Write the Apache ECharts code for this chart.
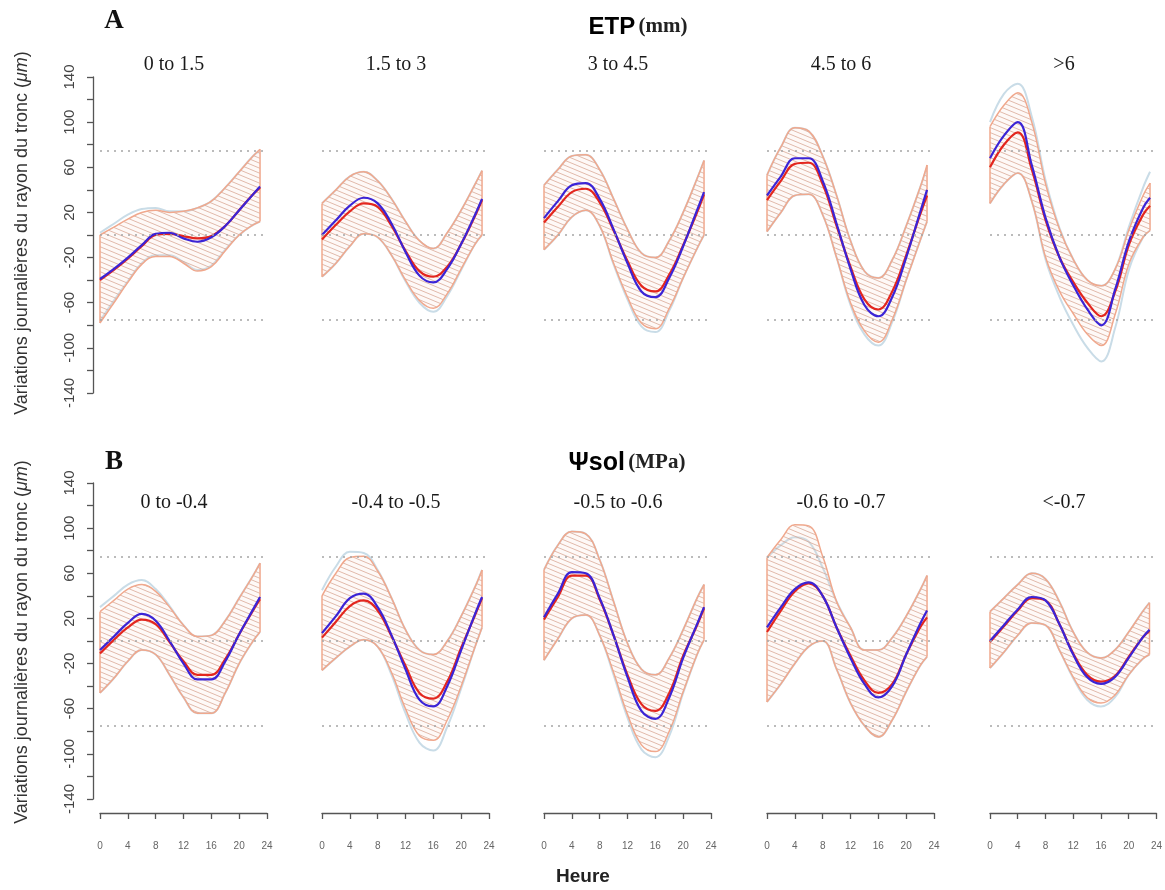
<!DOCTYPE html>
<html><head><meta charset="utf-8">
<script src="https://cdn.jsdelivr.net/npm/echarts@6/dist/echarts.min.js"></script>
<style>html,body{margin:0;padding:0;background:#fff}#c{width:1165px;height:890px}</style>
</head><body><div id="c"></div>
<script>
// ---------------- DATA ----------------
const hours = [0, 2, 4, 6, 8, 10, 12, 14, 16, 18, 20, 22, 23];
const yMin = -140, yMax = 140, yStep = 20, yLabelStep = 40;
const refLines = [75, 0, -75];

const titlesA = ['0 to 1.5', '1.5 to 3', '3 to 4.5', '4.5 to 6', '>6'];
const titlesB = ['0 to -0.4', '-0.4 to -0.5', '-0.5 to -0.6', '-0.6 to -0.7', '<-0.7'];

// Row A (ETP classes): red mean, blue mean, red band (up/lo), blue band (up/lo)
const redA = [
  [-40, -31, -21, -10, 0, 1, -1, -3, -1, 8, 22, 36, 42],
  [-4, 9, 21, 28, 25, 8, -14, -32, -37, -28, -8, 17, 31],
  [11, 25, 38, 41, 29, 4, -23, -45, -50, -35, -9, 20, 36],
  [31, 48, 63, 64, 45, 8, -28, -57, -66, -50, -18, 18, 35],
  [60, 80, 91, 58, 13, -20, -42, -60, -72, -50, -8, 18, 26]
];
const blueA = [
  [-39, -30, -20, -9, 1, 2, -3, -6, -2, 8, 22, 36, 43],
  [0, 13, 26, 33, 28, 10, -15, -36, -42, -30, -8, 18, 32],
  [15, 30, 44, 46, 32, 5, -25, -50, -55, -38, -10, 22, 38],
  [35, 52, 68, 68, 48, 10, -30, -62, -72, -55, -20, 20, 40],
  [68, 88, 100, 62, 15, -20, -45, -66, -80, -48, -5, 24, 33]
];
const upA = [
  [0, 7, 14, 20, 22, 20, 21, 24, 30, 42, 56, 70, 76],
  [28, 40, 52, 56, 48, 32, 12, -5, -12, 2, 22, 45, 57],
  [44, 58, 70, 71, 58, 32, 5, -16, -20, -5, 20, 50, 66],
  [53, 78, 95, 92, 70, 35, -5, -32, -38, -22, 8, 42, 62],
  [96, 115, 126, 100, 45, 5, -22, -40, -45, -30, 5, 35, 46]
];
const loA = [
  [-78, -60, -42, -26, -19, -19, -25, -32, -28, -14, 0, 9, 12],
  [-37, -25, -10, 1, -2, -18, -40, -58, -65, -52, -30, -8, 0],
  [-13, 0, 16, 22, 8, -25, -55, -78, -83, -65, -38, -12, 0],
  [3, 20, 35, 36, 18, -20, -60, -85, -95, -75, -40, -5, 12],
  [28, 45, 55, 30, -20, -50, -70, -88, -98, -70, -25, -2, 4]
];
const bUpA = [
  [2, 10, 18, 23, 24, 21, 21, 24, 30, 42, 56, 70, 75],
  [28, 40, 52, 56, 48, 32, 12, -5, -12, 2, 22, 45, 57],
  [44, 58, 70, 71, 58, 32, 5, -16, -20, -5, 20, 50, 66],
  [53, 78, 95, 92, 70, 35, -5, -32, -38, -22, 8, 42, 60],
  [100, 125, 134, 105, 48, 6, -22, -40, -45, -30, 8, 42, 56]
];
const bLoA = [
  [-76, -58, -41, -25, -18, -18, -24, -31, -27, -13, 0, 9, 12],
  [-37, -25, -10, 1, -2, -18, -41, -60, -68, -54, -31, -8, 0],
  [-13, 0, 16, 22, 8, -26, -57, -81, -86, -67, -38, -12, 0],
  [3, 20, 35, 36, 18, -20, -62, -88, -98, -77, -40, -5, 12],
  [28, 45, 55, 30, -22, -55, -80, -100, -112, -82, -30, -2, 4]
];

// Row B (Psi sol classes)
const redB = [
  [-11, 1, 12, 19, 15, -1, -18, -30, -30, -16, 6, 27, 37],
  [3, 17, 31, 36, 27, 4, -22, -46, -51, -36, -6, 23, 38],
  [19, 39, 58, 58, 37, 5, -30, -56, -62, -46, -13, 14, 29],
  [8, 27, 44, 51, 40, 12, -13, -35, -46, -38, -12, 12, 21],
  [-1, 13, 27, 38, 36, 15, -11, -30, -36, -31, -14, 3, 9]
];
const blueB = [
  [-8, 4, 16, 24, 18, 0, -20, -34, -34, -18, 6, 28, 39],
  [7, 22, 38, 42, 30, 5, -25, -52, -58, -40, -8, 24, 39],
  [21, 42, 61, 60, 38, 5, -32, -62, -69, -50, -15, 15, 30],
  [12, 30, 46, 52, 40, 12, -15, -38, -50, -40, -12, 15, 27],
  [0, 14, 28, 39, 36, 15, -12, -32, -38, -32, -15, 3, 10]
];
const upB = [
  [26, 36, 46, 50, 44, 30, 14, 4, 5, 18, 38, 58, 69],
  [40, 60, 74, 75, 62, 38, 10, -8, -12, 0, 22, 48, 63],
  [63, 85, 97, 95, 72, 35, -2, -25, -30, -15, 10, 38, 50],
  [74, 90, 103, 102, 75, 35, 12, -8, -8, 3, 22, 45, 58],
  [26, 38, 50, 60, 55, 35, 8, -10, -15, -8, 8, 26, 34]
];
const loB = [
  [-46, -33, -18, -8, -12, -30, -50, -64, -64, -46, -20, 0, 8],
  [-26, -15, -5, 1, -5, -28, -60, -84, -88, -70, -40, -5, 12],
  [-17, 2, 20, 23, 5, -28, -65, -92, -98, -80, -45, -12, 1],
  [-54, -38, -20, -5, 0, -25, -55, -75, -85, -70, -45, -22, -14],
  [-24, -10, 5, 16, 14, -8, -32, -50, -55, -48, -30, -16, -12]
];
const bUpB = [
  [30, 40, 50, 54, 46, 31, 14, 4, 5, 18, 38, 58, 69],
  [45, 66, 79, 78, 63, 38, 10, -8, -12, 0, 22, 48, 63],
  [63, 85, 97, 95, 72, 35, -2, -25, -30, -15, 10, 38, 50],
  [74, 85, 92, 88, 65, 35, 12, -8, -8, 3, 22, 45, 58],
  [26, 38, 50, 60, 55, 35, 8, -10, -15, -8, 8, 26, 34]
];
const bLoB = [
  [-46, -33, -18, -8, -12, -30, -50, -64, -64, -46, -20, 0, 8],
  [-26, -15, -5, 1, -5, -30, -64, -90, -97, -76, -42, -5, 12],
  [-17, 2, 20, 23, 5, -30, -68, -96, -103, -84, -46, -12, 1],
  [-54, -38, -20, -5, 0, -25, -55, -75, -85, -70, -45, -22, -14],
  [-24, -10, 5, 16, 14, -8, -33, -52, -58, -50, -30, -16, -12]
];

// ---------------- LAYOUT / STYLE ----------------
const colLeft = [100, 322, 544, 767, 990];
const gridW = 167;
const rowTop = [77, 483];
const gridH = 316;
const SALMON = '#f0a88d';
const RED = '#e3261e';
const BLUE = '#3b24d6';
const LBLUE = '#c9dce7';

function hatchCanvas() {
  const W = 12, H = 5;
  const c = document.createElement('canvas');
  c.width = W; c.height = H;
  const g = c.getContext('2d');
  g.fillStyle = 'rgba(246,214,200,0.14)';
  g.fillRect(0, 0, W, H);
  g.strokeStyle = 'rgba(212,158,138,0.7)';
  g.lineWidth = 1;
  g.beginPath();
  g.moveTo(0, -H); g.lineTo(W, 0);
  g.moveTo(0, 0); g.lineTo(W, H);
  g.moveTo(0, H); g.lineTo(W, 2 * H);
  g.stroke();
  return c;
}
const hatch = { image: hatchCanvas(), repeat: 'repeat' };

// rows stored as [value, hour] so the value is the first (stackable) dimension
const pairs = (vals) => hours.map((h, i) => [vals[i], h]);
const ENC = { x: 1, y: 0 };

const grids = [], xAxes = [], yAxes = [], series = [], graphics = [];
const rows = [
  { red: redA, blue: blueA, up: upA, lo: loA, bup: bUpA, blo: bLoA, titles: titlesA },
  { red: redB, blue: blueB, up: upB, lo: loB, bup: bUpB, blo: bLoB, titles: titlesB }
];

rows.forEach((row, r) => {
  for (let c = 0; c < 5; c++) {
    const gi = r * 5 + c;
    grids.push({ left: colLeft[c], top: rowTop[r], width: gridW, height: gridH, containLabel: false });
    xAxes.push({
      gridIndex: gi, type: 'value', min: 0, max: 24, interval: 4,
      show: r === 1, offset: 14, position: 'bottom',
      axisLine: { show: true, onZero: false, lineStyle: { color: '#555', width: 1.3 } },
      axisTick: { show: true, length: 6, lineStyle: { color: '#555', width: 1.3 } },
      axisLabel: { fontSize: 10, color: '#666', margin: 28, fontFamily: 'Liberation Sans' },
      splitLine: { show: false }
    });
    yAxes.push({
      gridIndex: gi, type: 'value', min: yMin, max: yMax, interval: yStep,
      show: c === 0, offset: 7, position: 'left',
      axisLine: { show: true, onZero: false, lineStyle: { color: '#555', width: 1.3 } },
      axisTick: { show: true, length: 6, lineStyle: { color: '#555', width: 1.3 } },
      axisLabel: {
        rotate: 90, fontSize: 15, color: '#444', margin: 16, fontFamily: 'Liberation Sans',
        formatter: (v) => ((v - yMin) % yLabelStep === 0 ? String(v) : '')
      },
      splitLine: { show: false }
    });
    const base = { type: 'line', xAxisIndex: gi, yAxisIndex: gi, encode: ENC, smooth: 0.4, symbol: 'none', silent: true, animation: false };
    // light-blue envelope (blue series spread)
    series.push(Object.assign({}, base, { data: pairs(row.blo[c]), lineStyle: { color: LBLUE, width: 2 }, z: 1 }));
    series.push(Object.assign({}, base, { data: pairs(row.bup[c]), lineStyle: { color: LBLUE, width: 2 }, z: 1 }));
    // salmon hatched envelope
    series.push(Object.assign({}, base, {
      stack: 'band' + gi, stackStrategy: 'all', data: pairs(row.lo[c]),
      lineStyle: { color: SALMON, width: 1.5 }, z: 2,
      markLine: {
        silent: true, symbol: 'none', label: { show: false },
        lineStyle: { color: '#a5a5a5', type: [2, 5], width: 1.6 },
        data: refLines.map(v => ({ yAxis: v }))
      }
    }));
    series.push(Object.assign({}, base, {
      stack: 'band' + gi, stackStrategy: 'all', data: pairs(row.up[c].map((v, i) => v - row.lo[c][i])),
      lineStyle: { color: SALMON, width: 1.5 },
      areaStyle: { color: hatch, opacity: 1 }, z: 2
    }));
    const n = hours.length - 1;
    series.push(Object.assign({}, base, {
      smooth: false, connectNulls: false,
      data: [[row.lo[c][0], hours[0]], [row.up[c][0], hours[0]], ['-', hours[0]], [row.lo[c][n], hours[n]], [row.up[c][n], hours[n]]],
      lineStyle: { color: SALMON, width: 1.5 }, z: 2
    }));
    // means
    series.push(Object.assign({}, base, { data: pairs(row.red[c]), lineStyle: { color: RED, width: 2.2 }, z: 3 }));
    series.push(Object.assign({}, base, { data: pairs(row.blue[c]), lineStyle: { color: BLUE, width: 2.2 }, z: 4 }));

    // panel title
    graphics.push({
      type: 'text', x: colLeft[c] + 74, y: r === 0 ? 65 : 503,
      style: { text: row.titles[c], font: '20px "Liberation Serif"', fill: '#1a1a1a', align: 'center', verticalAlign: 'middle' }
    });
  }
});

const yName = 'Variations journalières du rayon du tronc ({i|μm})';
const yNameStyle = {
  text: yName, align: 'center', verticalAlign: 'middle', fontSize: 18, fontFamily: 'Liberation Sans', fill: '#333',
  rich: { i: { fontSize: 18, fontStyle: 'italic', fontFamily: 'Liberation Sans', fill: '#333' } }
};
const headRich = {
  a: { fontSize: 24, fontWeight: 'bold', fontFamily: 'Liberation Sans', fill: '#000' },
  b: { fontSize: 21, fontWeight: 'bold', fontFamily: 'Liberation Serif', fill: '#222' }
};
const headRich2 = {
  a: { fontSize: 25, fontWeight: 'bold', fontFamily: 'Liberation Sans', fill: '#000' },
  b: { fontSize: 21, fontWeight: 'bold', fontFamily: 'Liberation Serif', fill: '#222' }
};
graphics.push(
  { type: 'text', x: 114, y: 21, style: { text: 'A', font: 'bold 27px "Liberation Serif"', fill: '#111', align: 'center', verticalAlign: 'middle' } },
  { type: 'text', x: 114, y: 462, style: { text: 'B', font: 'bold 27px "Liberation Serif"', fill: '#111', align: 'center', verticalAlign: 'middle' } },
  { type: 'text', x: 638, y: 27, style: { text: '{a|ETP} {b|(mm)}', align: 'center', verticalAlign: 'middle', rich: headRich } },
  { type: 'text', x: 627, y: 463, style: { text: '{a|Ψsol} {b|(MPa)}', align: 'center', verticalAlign: 'middle', rich: headRich2 } },
  { type: 'text', x: 22, y: 233, rotation: Math.PI / 2, style: yNameStyle },
  { type: 'text', x: 22, y: 642, rotation: Math.PI / 2, style: yNameStyle },
  { type: 'text', x: 583, y: 877, style: { text: 'Heure', font: 'bold 19px "Liberation Sans"', fill: '#222', align: 'center', verticalAlign: 'middle' } }
);

const chart = echarts.init(document.getElementById('c'), null, { renderer: 'canvas' });
chart.setOption({
  backgroundColor: '#fff',
  animation: false,
  grid: grids, xAxis: xAxes, yAxis: yAxes, series: series,
  graphic: { elements: graphics }
});
</script>
</body></html>
